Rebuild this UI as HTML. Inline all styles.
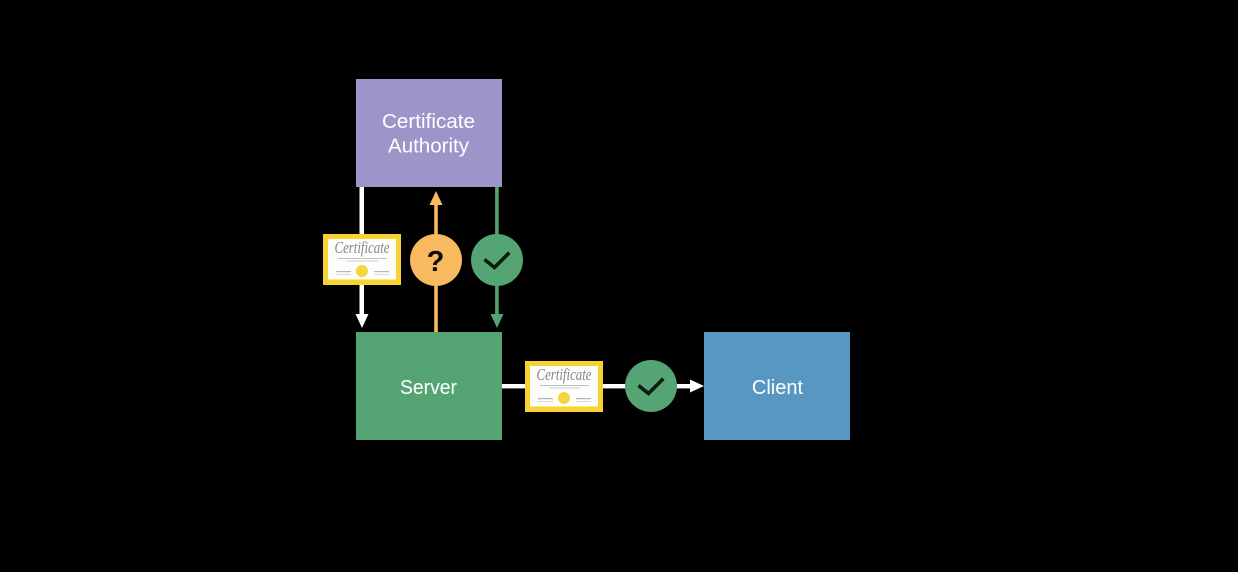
<!DOCTYPE html>
<html>
<head>
<meta charset="utf-8">
<style>
html,body{margin:0;padding:0;background:#000;width:1238px;height:572px;overflow:hidden}
svg{display:block}
text{font-family:"Liberation Sans",sans-serif}
</style>
</head>
<body>
<svg width="1238" height="572" viewBox="0 0 1238 572" xmlns="http://www.w3.org/2000/svg">
<defs>
<filter id="soft" x="-5%" y="-5%" width="110%" height="110%"><feGaussianBlur stdDeviation="0.3"/></filter>
<g id="cert" filter="url(#soft)">
  <rect x="0" y="0" width="78" height="51" fill="#f7d233"/>
  <rect x="5" y="5" width="68" height="40.500" fill="#fdfdfa"/>
  <text x="39" y="19" text-anchor="middle" font-size="17" font-style="italic" fill="#85858f" textLength="55" lengthAdjust="spacingAndGlyphs" style="font-family:'Liberation Serif',serif">Certificate</text>
  <rect x="15" y="24" width="49" height="1" fill="#c0c0c8"/>
  <rect x="24" y="26.500" width="31" height="1" fill="#d0d0d6"/>
  <circle cx="39" cy="37" r="6" fill="#f6d53e"/>
  <rect x="13" y="37" width="15" height="1.200" fill="#b4b4bc"/>
  <rect x="51" y="37" width="15" height="1.200" fill="#b4b4bc"/>
  <rect x="13" y="40" width="15" height="0.800" fill="#d0d0d6"/>
  <rect x="51" y="40" width="15" height="0.800" fill="#d0d0d6"/>
</g>
<g id="chk">
  <circle cx="0" cy="0" r="26" fill="#55a574"/>
  <path d="M-12.500 -0.500L-2.500 7.500L12.300 -7.300" fill="none" stroke="#0c1a12" stroke-width="3.600"/>
</g>
</defs>

<rect x="356" y="79" width="146" height="108" fill="#9f94c9"/>
<rect x="356" y="332" width="146" height="108" fill="#55a574"/>
<rect x="704" y="332" width="146" height="108" fill="#5797c1"/>

<text x="428.500" y="128" text-anchor="middle" font-size="20" fill="#fff" textLength="93" lengthAdjust="spacingAndGlyphs">Certificate</text>
<text x="428.500" y="152.500" text-anchor="middle" font-size="20" fill="#fff" textLength="81" lengthAdjust="spacingAndGlyphs">Authority</text>
<text x="428.500" y="394" text-anchor="middle" font-size="20" fill="#fff" textLength="57" lengthAdjust="spacingAndGlyphs">Server</text>
<text x="777.500" y="394" text-anchor="middle" font-size="20" fill="#fff">Client</text>

<!-- white down arrow -->
<rect x="359.500" y="187" width="4.500" height="128" fill="#fff"/>
<path d="M355.500 314H368.500L362 328Z" fill="#fff"/>

<!-- orange up arrow -->
<rect x="434.200" y="204" width="3.600" height="128" fill="#f8b95f"/>
<path d="M429.500 205H442.500L436 191Z" fill="#f8b95f"/>
<circle cx="436" cy="260" r="26" fill="#f8b95f"/>
<text x="435.500" y="271" text-anchor="middle" font-size="29" font-weight="bold" fill="#0c0a06">?</text>

<!-- green down arrow -->
<rect x="495.100" y="187" width="3.600" height="128" fill="#55a574"/>
<path d="M490.500 314H503.500L497 328Z" fill="#55a574"/>
<use href="#chk" x="497" y="260"/>

<use href="#cert" x="323" y="234"/>

<!-- horizontal arrow -->
<rect x="502" y="384" width="190" height="4.400" fill="#fff"/>
<path d="M690 379.500V392.500L704 386Z" fill="#fff"/>
<use href="#cert" x="525" y="361"/>
<use href="#chk" x="651" y="386"/>
</svg>
</body>
</html>
